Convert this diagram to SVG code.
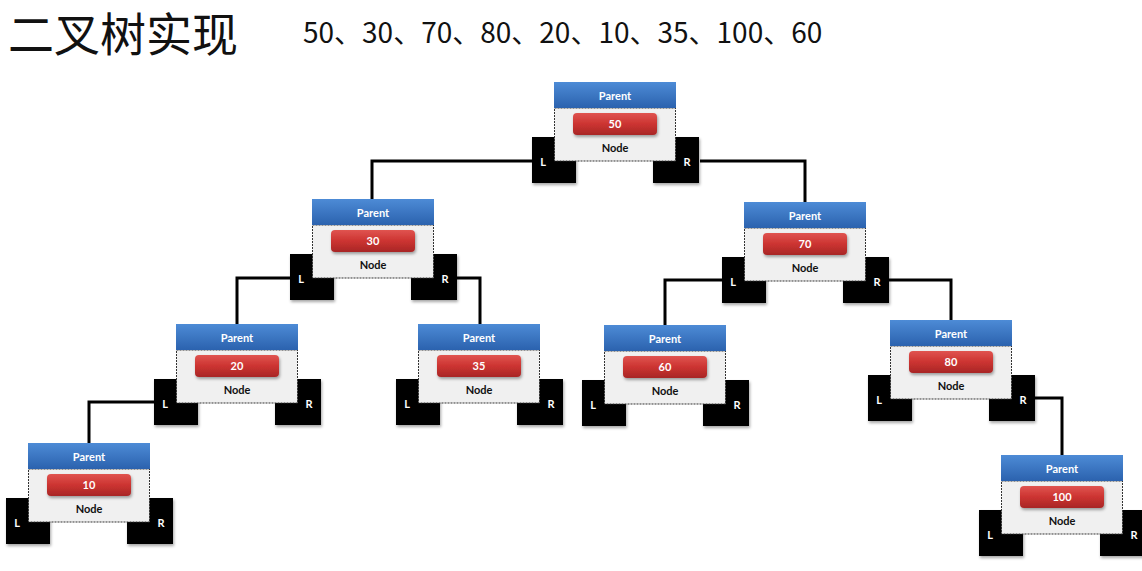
<svg xmlns="http://www.w3.org/2000/svg" width="1142" height="571" viewBox="0 0 1142 571">
<defs>
<linearGradient id="blue" x1="0" y1="0" x2="0" y2="1">
<stop offset="0" stop-color="#4d8bd6"/>
<stop offset="1" stop-color="#2b62ae"/>
</linearGradient>
<linearGradient id="red" x1="0" y1="0" x2="0" y2="1">
<stop offset="0" stop-color="#e05450"/>
<stop offset="0.5" stop-color="#cc3431"/>
<stop offset="1" stop-color="#a82626"/>
</linearGradient>
<filter id="sh" x="-20%" y="-20%" width="150%" height="150%">
<feDropShadow dx="1" dy="2" stdDeviation="1.5" flood-color="#000" flood-opacity="0.35"/>
</filter>
</defs>
<style>
.title{font-family:"Noto Sans CJK SC","Noto Sans",sans-serif;font-size:46px;fill:#111}
.seq{font-family:"Noto Sans CJK SC","Noto Sans",sans-serif;font-size:28px;fill:#111}
.box{fill:#000;filter:url(#sh)}
.body{fill:#f0f0f0;stroke:#333;stroke-width:1;stroke-dasharray:2 1}
.head{fill:url(#blue)}
.pill{fill:url(#red);filter:url(#sh)}
.t{font-family:Lato,"Liberation Sans",sans-serif;font-weight:bold;font-size:11px;text-anchor:middle}
.w{fill:#fff}
.k{fill:#111}
.conn{fill:none;stroke:#000;stroke-width:3}
</style>
<rect width="1142" height="571" fill="#fff"/>
<text class="title" x="8" y="51">二叉树实现</text>
<text class="seq" x="303" y="43">50、30、70、80、20、10、35、100、60</text>
<g id="connectors">
<path class="conn" d="M532,161 H372 V199"/>
<path class="conn" d="M700,161 H805 V202"/>
<path class="conn" d="M290,278 H237 V324"/>
<path class="conn" d="M457,278 H480 V324"/>
<path class="conn" d="M722,280 H665 V325"/>
<path class="conn" d="M889,280 H951 V320"/>
<path class="conn" d="M154,402 H89 V443"/>
<path class="conn" d="M1035,398 H1062 V455"/>
</g>
<g id="node50" transform="translate(554,82)">
<rect class="box" x="-22" y="55" width="44" height="46"/><rect class="box" x="99" y="55" width="46" height="46"/>
<rect class="body" x="0.5" y="26" width="121" height="53"/><rect class="head" x="0" y="0" width="122" height="26"/>
<text class="t w" x="61" y="18">Parent</text><rect class="pill" x="19" y="31" width="84" height="22" rx="4"/>
<text class="t w" x="61" y="46">50</text><text class="t k" x="61" y="70">Node</text>
<text class="t w" x="-11" y="84">L</text><text class="t w" x="133" y="84">R</text>
</g>
<g id="node30" transform="translate(312,199)">
<rect class="box" x="-22" y="55" width="44" height="46"/><rect class="box" x="99" y="55" width="46" height="46"/>
<rect class="body" x="0.5" y="26" width="121" height="53"/><rect class="head" x="0" y="0" width="122" height="26"/>
<text class="t w" x="61" y="18">Parent</text><rect class="pill" x="19" y="31" width="84" height="22" rx="4"/>
<text class="t w" x="61" y="46">30</text><text class="t k" x="61" y="70">Node</text>
<text class="t w" x="-11" y="84">L</text><text class="t w" x="133" y="84">R</text>
</g>
<g id="node70" transform="translate(744,202)">
<rect class="box" x="-22" y="55" width="44" height="46"/><rect class="box" x="99" y="55" width="46" height="46"/>
<rect class="body" x="0.5" y="26" width="121" height="53"/><rect class="head" x="0" y="0" width="122" height="26"/>
<text class="t w" x="61" y="18">Parent</text><rect class="pill" x="19" y="31" width="84" height="22" rx="4"/>
<text class="t w" x="61" y="46">70</text><text class="t k" x="61" y="70">Node</text>
<text class="t w" x="-11" y="84">L</text><text class="t w" x="133" y="84">R</text>
</g>
<g id="node20" transform="translate(176,324)">
<rect class="box" x="-22" y="55" width="44" height="46"/><rect class="box" x="99" y="55" width="46" height="46"/>
<rect class="body" x="0.5" y="26" width="121" height="53"/><rect class="head" x="0" y="0" width="122" height="26"/>
<text class="t w" x="61" y="18">Parent</text><rect class="pill" x="19" y="31" width="84" height="22" rx="4"/>
<text class="t w" x="61" y="46">20</text><text class="t k" x="61" y="70">Node</text>
<text class="t w" x="-11" y="84">L</text><text class="t w" x="133" y="84">R</text>
</g>
<g id="node35" transform="translate(418,324)">
<rect class="box" x="-22" y="55" width="44" height="46"/><rect class="box" x="99" y="55" width="46" height="46"/>
<rect class="body" x="0.5" y="26" width="121" height="53"/><rect class="head" x="0" y="0" width="122" height="26"/>
<text class="t w" x="61" y="18">Parent</text><rect class="pill" x="19" y="31" width="84" height="22" rx="4"/>
<text class="t w" x="61" y="46">35</text><text class="t k" x="61" y="70">Node</text>
<text class="t w" x="-11" y="84">L</text><text class="t w" x="133" y="84">R</text>
</g>
<g id="node60" transform="translate(604,325)">
<rect class="box" x="-22" y="55" width="44" height="46"/><rect class="box" x="99" y="55" width="46" height="46"/>
<rect class="body" x="0.5" y="26" width="121" height="53"/><rect class="head" x="0" y="0" width="122" height="26"/>
<text class="t w" x="61" y="18">Parent</text><rect class="pill" x="19" y="31" width="84" height="22" rx="4"/>
<text class="t w" x="61" y="46">60</text><text class="t k" x="61" y="70">Node</text>
<text class="t w" x="-11" y="84">L</text><text class="t w" x="133" y="84">R</text>
</g>
<g id="node80" transform="translate(890,320)">
<rect class="box" x="-22" y="55" width="44" height="46"/><rect class="box" x="99" y="55" width="46" height="46"/>
<rect class="body" x="0.5" y="26" width="121" height="53"/><rect class="head" x="0" y="0" width="122" height="26"/>
<text class="t w" x="61" y="18">Parent</text><rect class="pill" x="19" y="31" width="84" height="22" rx="4"/>
<text class="t w" x="61" y="46">80</text><text class="t k" x="61" y="70">Node</text>
<text class="t w" x="-11" y="84">L</text><text class="t w" x="133" y="84">R</text>
</g>
<g id="node10" transform="translate(28,443)">
<rect class="box" x="-22" y="55" width="44" height="46"/><rect class="box" x="99" y="55" width="46" height="46"/>
<rect class="body" x="0.5" y="26" width="121" height="53"/><rect class="head" x="0" y="0" width="122" height="26"/>
<text class="t w" x="61" y="18">Parent</text><rect class="pill" x="19" y="31" width="84" height="22" rx="4"/>
<text class="t w" x="61" y="46">10</text><text class="t k" x="61" y="70">Node</text>
<text class="t w" x="-11" y="84">L</text><text class="t w" x="133" y="84">R</text>
</g>
<g id="node100" transform="translate(1001,455)">
<rect class="box" x="-22" y="55" width="44" height="46"/><rect class="box" x="99" y="55" width="46" height="46"/>
<rect class="body" x="0.5" y="26" width="121" height="53"/><rect class="head" x="0" y="0" width="122" height="26"/>
<text class="t w" x="61" y="18">Parent</text><rect class="pill" x="19" y="31" width="84" height="22" rx="4"/>
<text class="t w" x="61" y="46">100</text><text class="t k" x="61" y="70">Node</text>
<text class="t w" x="-11" y="84">L</text><text class="t w" x="133" y="84">R</text>
</g>
</svg>
